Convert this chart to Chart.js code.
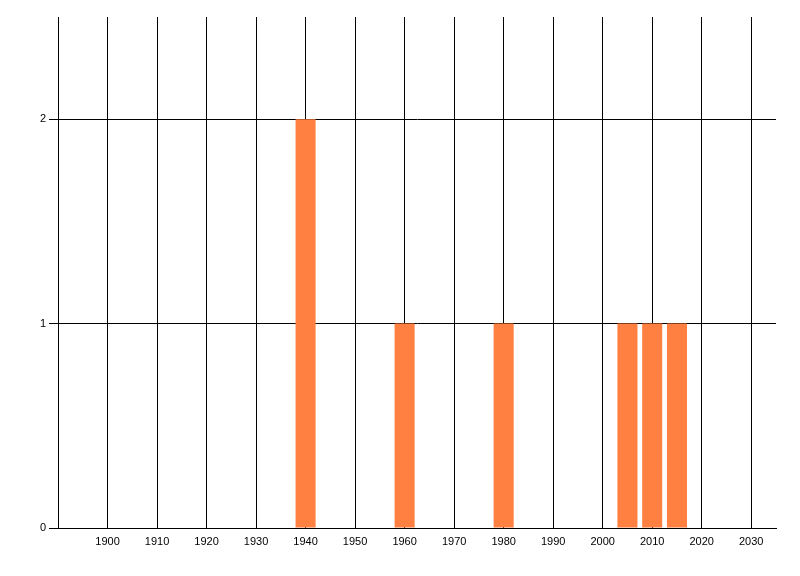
<!DOCTYPE html>
<html>
<head>
<meta charset="utf-8">
<script src="https://cdn.jsdelivr.net/npm/chart.js@4/dist/chart.umd.min.js"></script>
<style>
html,body{margin:0;padding:0;background:#fff;}
#wrap{width:800px;height:576px;}
</style>
</head>
<body>
<div id="wrap"><canvas id="c" width="800" height="576"></canvas></div>
<script>
const years = [1940, 1960, 1980, 2005, 2010, 2015];
const counts = [2, 1, 1, 1, 1, 1];
const xTickValues = [1900, 1910, 1920, 1930, 1940, 1950, 1960, 1970, 1980, 1990, 2000, 2010, 2020, 2030];
const yTickValues = [0, 1, 2];

const points = years.map((y, i) => ({ x: y, y: counts[i] }));

new Chart(document.getElementById('c'), {
  type: 'bar',
  data: {
    datasets: [{
      data: points,
      backgroundColor: 'rgb(255,128,64)',
      borderWidth: 0,
      barPercentage: 0.81,
      categoryPercentage: 1.0
    }]
  },
  options: {
    responsive: false,
    animation: false,
    devicePixelRatio: 1,
    layout: { padding: { left: 0, top: 17, right: 24, bottom: 0 } },
    plugins: { legend: { display: false }, tooltip: { enabled: false } },
    scales: {
      x: {
        type: 'linear',
        min: 1890,
        max: 2035,
        offset: false,
        afterBuildTicks: s => { s.ticks = xTickValues.map(v => ({ value: v })); },
        afterFit: s => { s.height = 48; },
        grid: { color: '#000', lineWidth: 1, drawTicks: false, offset: false },
        border: { color: '#000', width: 1 },
        ticks: {
          color: '#000',
          font: { family: 'Liberation Sans', size: 11 },
          padding: 7,
          maxRotation: 0,
          autoSkip: false,
          callback: v => String(v)
        }
      },
      y: {
        type: 'linear',
        min: 0,
        max: 2.5,
        afterBuildTicks: s => { s.ticks = yTickValues.map(v => ({ value: v })); },
        afterFit: s => { s.width = 58; },
        grid: { color: '#000', lineWidth: 1, drawTicks: true, tickLength: 9 },
        border: { color: '#000', width: 1 },
        ticks: {
          color: '#000',
          font: { family: 'Liberation Sans', size: 11 },
          padding: 3,
          callback: v => String(v)
        }
      }
    }
  }
});
</script>
</body>
</html>
